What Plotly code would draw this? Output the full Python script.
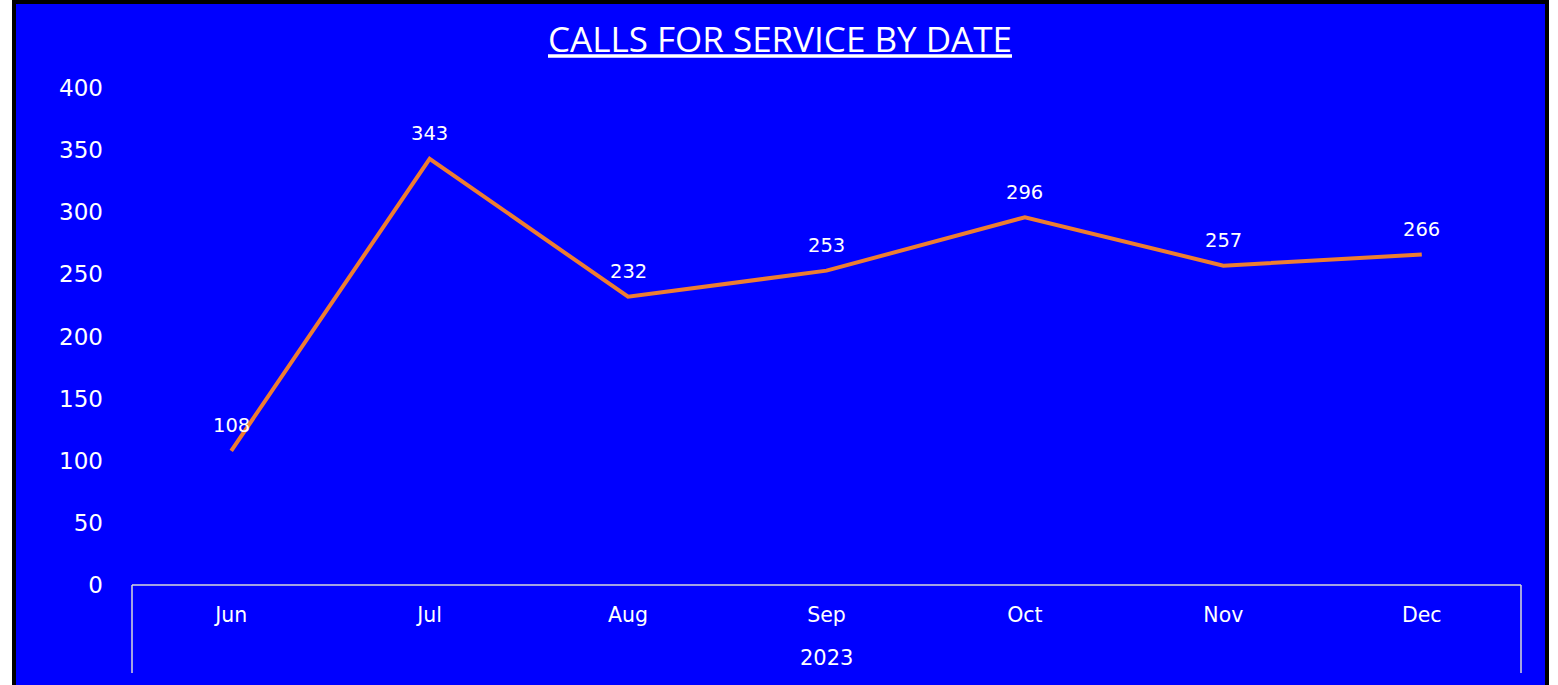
import plotly.graph_objects as go

months = ["Jun", "Jul", "Aug", "Sep", "Oct", "Nov", "Dec"]
calls = [108, 343, 232, 253, 296, 257, 266]
year_label = "2023"
y_ticks = [0, 50, 100, 150, 200, 250, 300, 350, 400]
title_text = "CALLS FOR SERVICE BY DATE"

W, H = 1558, 685
BLUE = "#0000FF"
AX = "#D9D9D9"

def px(x):
    return x / W

def py(y):
    return 1 - y / H

fig = go.Figure()
fig.add_trace(go.Scatter(
    x=months, y=calls, mode="lines",
    line=dict(color="#ED7D31", width=4),
    cliponaxis=False, hoverinfo="skip",
))

shapes = [
    dict(type="rect", xref="paper", yref="paper", x0=px(14), x1=px(1547), y0=py(2), y1=py(700),
         fillcolor=BLUE, line=dict(color="black", width=4), layer="below"),
    dict(type="line", xref="paper", yref="paper", x0=px(132), x1=px(1521), y0=py(585), y1=py(585),
         line=dict(color=AX, width=1.5)),
    dict(type="line", xref="paper", yref="paper", x0=px(132), x1=px(132), y0=py(585), y1=py(673),
         line=dict(color=AX, width=1.5)),
    dict(type="line", xref="paper", yref="paper", x0=px(1521), x1=px(1521), y0=py(585), y1=py(673),
         line=dict(color=AX, width=1.5)),
]

annotations = [
    dict(text=year_label, xref="paper", yref="paper", x=px(826.5), y=py(658), showarrow=False,
         font=dict(family="DejaVu Sans", size=21, color="white"), xanchor="center", yanchor="middle"),
]
for m, v in zip(months, calls):
    annotations.append(dict(text=str(v), x=m, y=v, xref="x", yref="y", showarrow=False,
                            yshift=25, xanchor="center", yanchor="middle",
                            font=dict(family="DejaVu Sans", size=19.5, color="white")))

fig.update_layout(
    width=W, height=H,
    margin=dict(l=0, r=0, t=0, b=0, autoexpand=False),
    paper_bgcolor="white", plot_bgcolor="rgba(0,0,0,0)",
    showlegend=False,
    title=dict(text="<u>" + title_text + "</u>", x=px(780), xanchor="center", y=py(40), yanchor="middle",
               font=dict(family="Open Sans", size=35, color="white")),
    xaxis=dict(domain=[px(132), px(1521)], range=[-0.5, 6.5], type="category",
               showgrid=False, zeroline=False, showline=False, ticks="", automargin=False,
               tickfont=dict(family="DejaVu Sans", size=20.5, color="white"),
               ticklabelstandoff=15),
    yaxis=dict(domain=[py(585), py(88)], range=[0, 400], tickvals=y_ticks, automargin=False,
               showgrid=False, zeroline=False, showline=False, ticks="",
               tickfont=dict(family="DejaVu Sans", size=23, color="white"),
               ticklabelstandoff=28),
    shapes=shapes, annotations=annotations,
)

fig.write_html("out.html", config={"displayModeBar": False},
               post_script="document.body.style.margin='0';document.body.style.overflow='hidden';")
